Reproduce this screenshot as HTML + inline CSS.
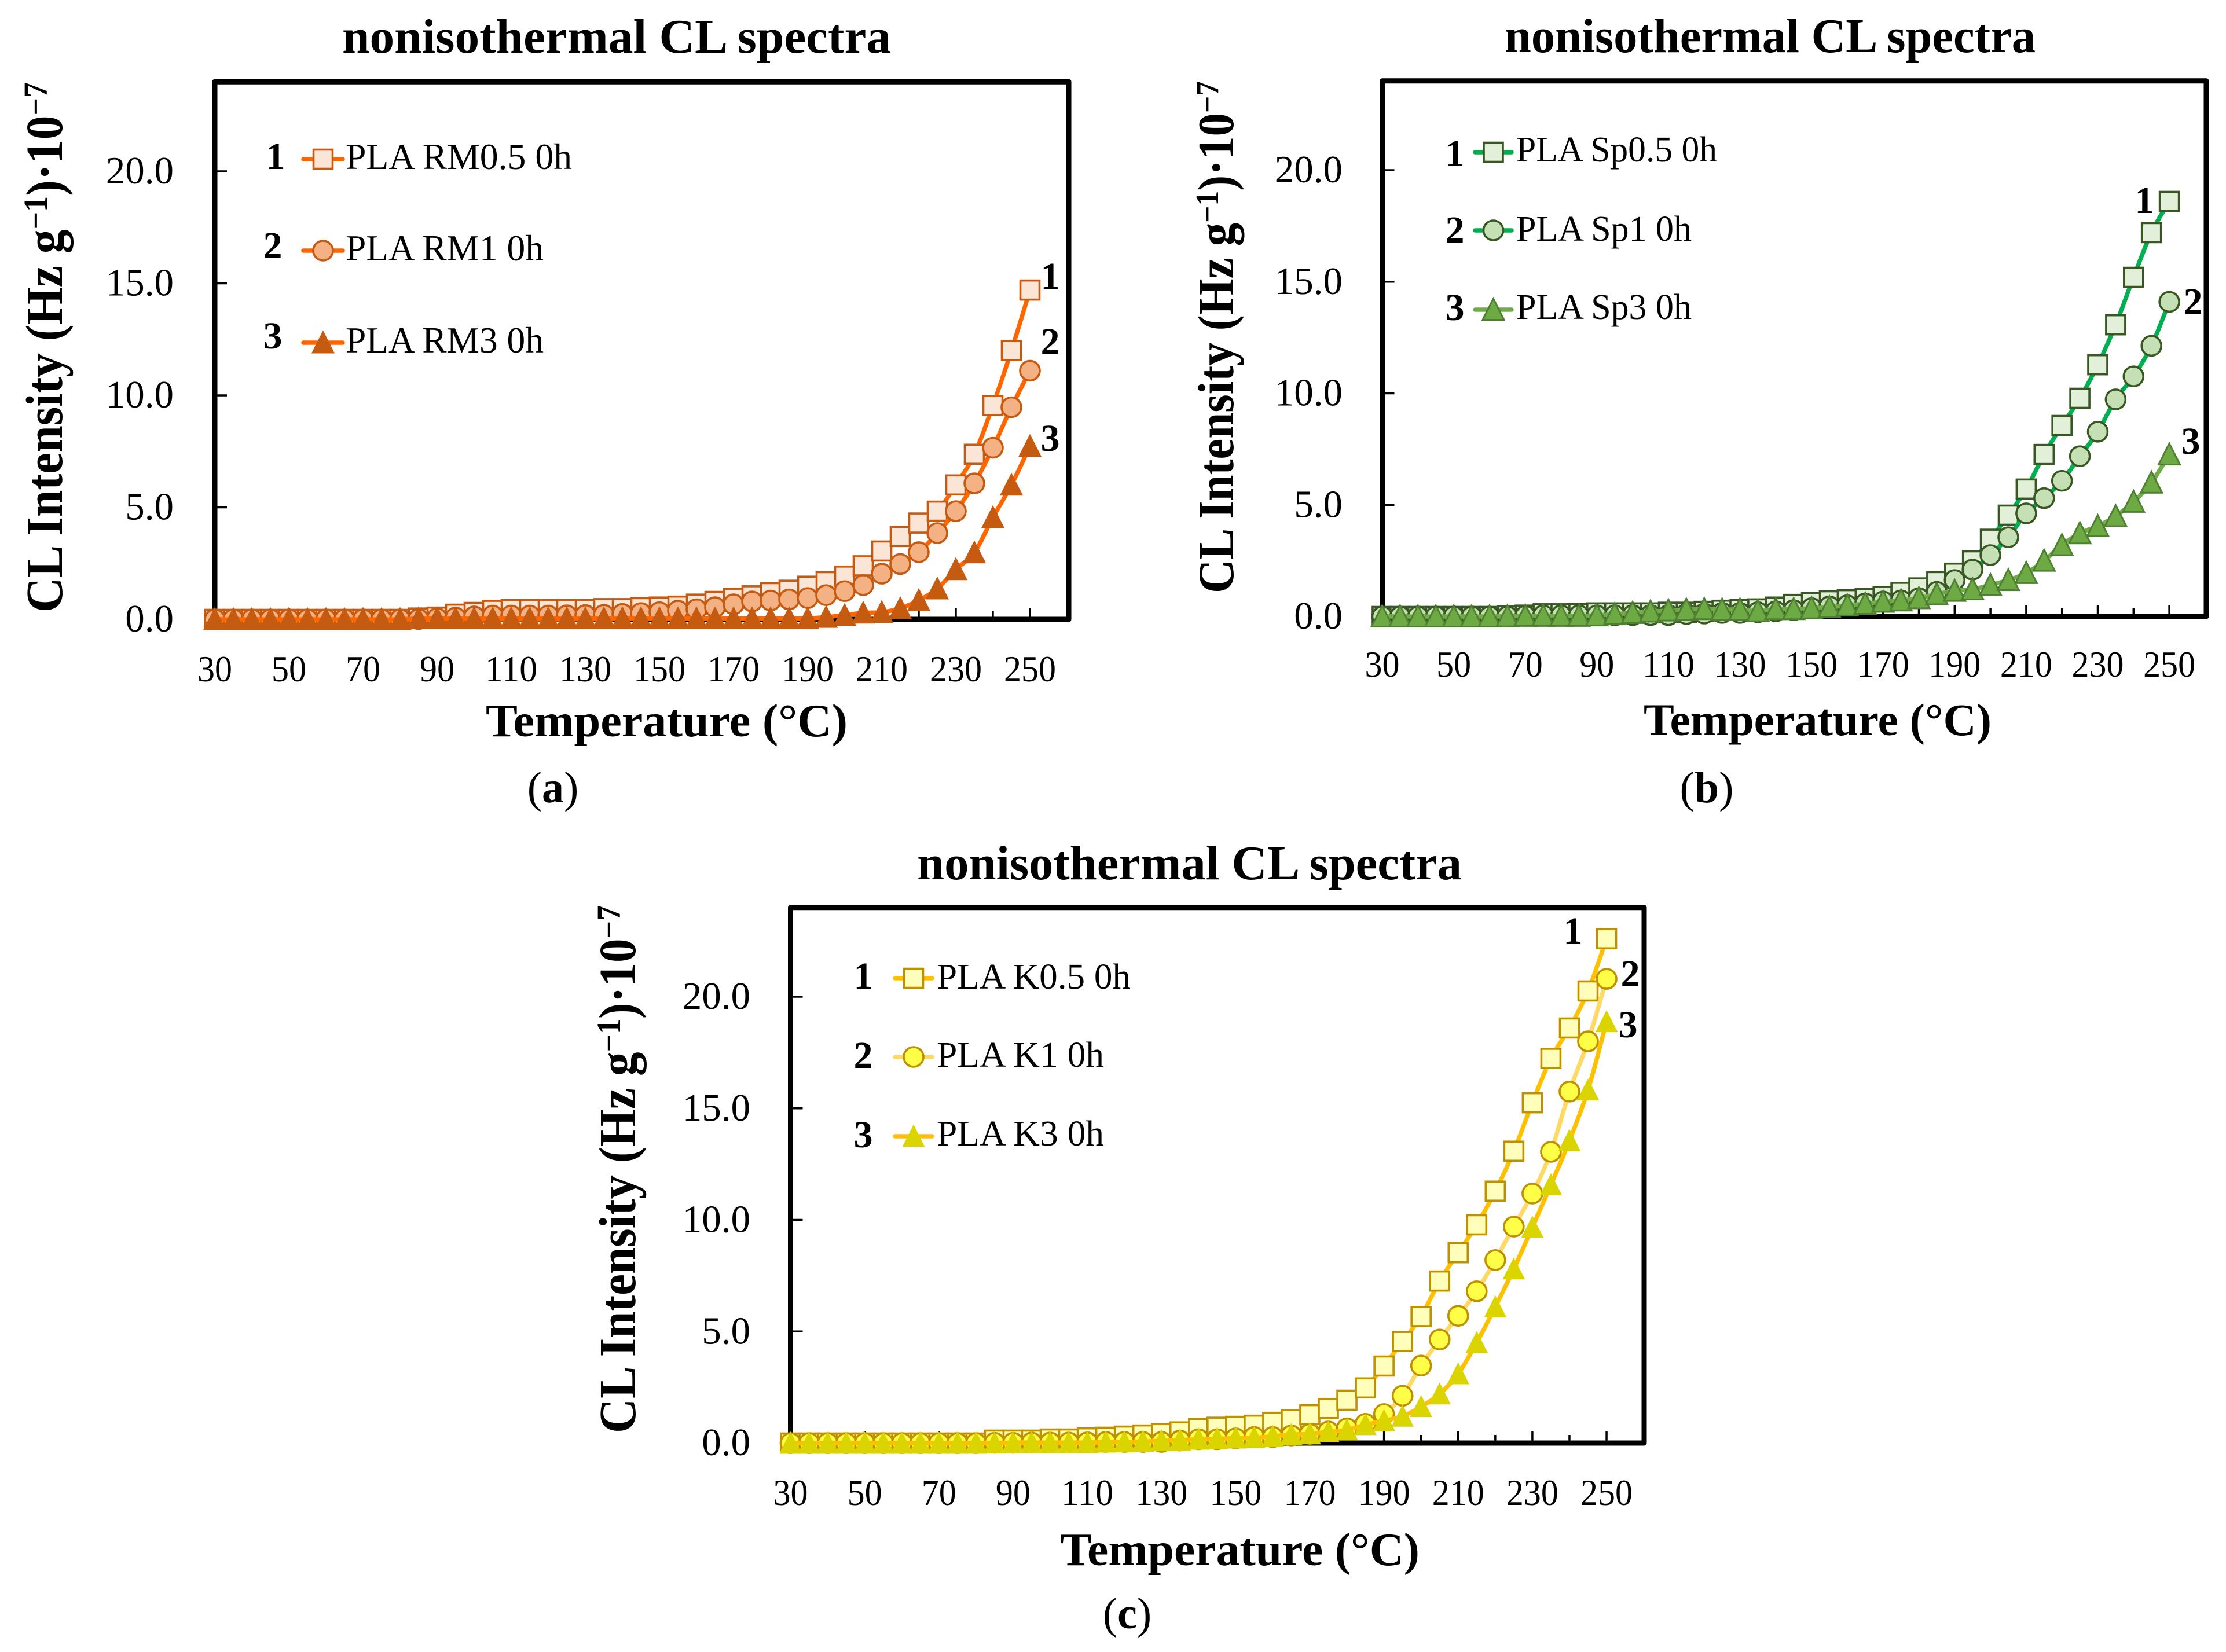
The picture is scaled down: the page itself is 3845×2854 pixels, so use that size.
<!DOCTYPE html>
<html lang="en">
<head>
<meta charset="utf-8">
<title>nonisothermal CL spectra</title>
<style>
html,body{margin:0;padding:0;background:#fff;}
svg{display:block;}
text{font-family:"Liberation Serif",serif;fill:#000;}
.b{font-weight:bold;}
</style>
</head>
<body>
<svg id="figure" xmlns="http://www.w3.org/2000/svg" width="3845" height="2854" viewBox="0 0 3845 2854">
<rect width="3845" height="2854" fill="#fff"/>

<g id="chart-a"></g>
<g id="chart-b"></g>
<g id="chart-c"></g>

<!-- Panel a text -->
<text class="b" x="591" y="91" font-size="84" textLength="948" lengthAdjust="spacingAndGlyphs">nonisothermal CL spectra</text>
<text class="b" transform="translate(107,1058) rotate(-90)" font-size="90" textLength="916" lengthAdjust="spacingAndGlyphs">CL Intensity (Hz g<tspan dy="-26" font-size="58">−1</tspan><tspan dy="26">)·10</tspan><tspan dy="-26" font-size="58">−7</tspan></text>
<text class="b" x="839" y="1272" font-size="80" textLength="625" lengthAdjust="spacingAndGlyphs">Temperature (°C)</text>
<text x="955" y="1386" font-size="76" text-anchor="middle">(<tspan class="b">a</tspan>)</text>
<text class="b" x="476" y="292" font-size="66" text-anchor="middle">1</text>
<text class="b" x="471" y="446" font-size="66" text-anchor="middle">2</text>
<text class="b" x="471" y="602" font-size="66" text-anchor="middle">3</text>
<text x="597" y="292" font-size="64" textLength="391" lengthAdjust="spacingAndGlyphs">PLA RM0.5 0h</text>
<text x="597" y="450" font-size="64" textLength="342" lengthAdjust="spacingAndGlyphs">PLA RM1 0h</text>
<text x="597" y="609" font-size="64" textLength="342" lengthAdjust="spacingAndGlyphs">PLA RM3 0h</text>
<text class="b" x="1814" y="499" font-size="66" text-anchor="middle">1</text>
<text class="b" x="1814" y="612" font-size="66" text-anchor="middle">2</text>
<text class="b" x="1814" y="779" font-size="66" text-anchor="middle">3</text>

<!-- Panel b text -->
<text class="b" x="2599" y="90" font-size="84" textLength="917" lengthAdjust="spacingAndGlyphs">nonisothermal CL spectra</text>
<text class="b" transform="translate(2130,1025) rotate(-90)" font-size="88" textLength="885" lengthAdjust="spacingAndGlyphs">CL Intensity (Hz g<tspan dy="-26" font-size="56">−1</tspan><tspan dy="26">)·10</tspan><tspan dy="-26" font-size="56">−7</tspan></text>
<text class="b" x="2839" y="1270" font-size="78" textLength="601" lengthAdjust="spacingAndGlyphs">Temperature (°C)</text>
<text x="2948" y="1386" font-size="76" text-anchor="middle">(<tspan class="b">b</tspan>)</text>
<text class="b" x="2513" y="287" font-size="66" text-anchor="middle">1</text>
<text class="b" x="2513" y="419" font-size="66" text-anchor="middle">2</text>
<text class="b" x="2513" y="553" font-size="66" text-anchor="middle">3</text>
<text x="2619" y="279" font-size="62" textLength="347" lengthAdjust="spacingAndGlyphs">PLA Sp0.5 0h</text>
<text x="2619" y="416" font-size="62" textLength="303" lengthAdjust="spacingAndGlyphs">PLA Sp1 0h</text>
<text x="2619" y="551" font-size="62" textLength="303" lengthAdjust="spacingAndGlyphs">PLA Sp3 0h</text>
<text class="b" x="3704" y="368" font-size="66" text-anchor="middle">1</text>
<text class="b" x="3788" y="543" font-size="66" text-anchor="middle">2</text>
<text class="b" x="3784" y="784" font-size="66" text-anchor="middle">3</text>

<!-- Panel c text -->
<text class="b" x="1584" y="1519" font-size="84" textLength="941" lengthAdjust="spacingAndGlyphs">nonisothermal CL spectra</text>
<text class="b" transform="translate(1097,2476) rotate(-90)" font-size="90" textLength="912" lengthAdjust="spacingAndGlyphs">CL Intensity (Hz g<tspan dy="-26" font-size="58">−1</tspan><tspan dy="26">)·10</tspan><tspan dy="-26" font-size="58">−7</tspan></text>
<text class="b" x="1831" y="2704" font-size="80" textLength="621" lengthAdjust="spacingAndGlyphs">Temperature (°C)</text>
<text x="1947" y="2813" font-size="76" text-anchor="middle">(<tspan class="b">c</tspan>)</text>
<text class="b" x="1491" y="1708" font-size="66" text-anchor="middle">1</text>
<text class="b" x="1491" y="1845" font-size="66" text-anchor="middle">2</text>
<text class="b" x="1491" y="1982" font-size="66" text-anchor="middle">3</text>
<text x="1618" y="1708" font-size="62" textLength="335" lengthAdjust="spacingAndGlyphs">PLA K0.5 0h</text>
<text x="1618" y="1843" font-size="62" textLength="289" lengthAdjust="spacingAndGlyphs">PLA K1 0h</text>
<text x="1618" y="1979" font-size="62" textLength="289" lengthAdjust="spacingAndGlyphs">PLA K3 0h</text>
<text class="b" x="2717" y="1630" font-size="66" text-anchor="middle">1</text>
<text class="b" x="2816" y="1704" font-size="66" text-anchor="middle">2</text>
<text class="b" x="2812" y="1792" font-size="66" text-anchor="middle">3</text>
</svg>

<script>
const temperatures = [30,35,40,45,50,55,60,65,70,75,80,85,90,95,100,105,110,115,120,125,130,135,140,145,150,155,160,165,170,175,180,185,190,195,200,205,210,215,220,225,230,235,240,245,250];
const xTickLabels = [30,50,70,90,110,130,150,170,190,210,230,250];
const xMinorTicks = [40,60,80,100,120,140,160,180,200,220,240];
const yTickLabels = ["0.0","5.0","10.0","15.0","20.0"];
const yTickValues = [0,5,10,15,20];

const rm05 = [0,0,0,0,0,0,0,0,0,0,0,.06,.1,.23,.31,.4,.44,.44,.44,.44,.44,.48,.48,.52,.55,.59,.68,.8,.94,1.05,1.19,1.3,1.48,1.68,1.93,2.39,3.05,3.7,4.3,4.83,6.0,7.37,9.55,12.0,14.7];
const rm1 = [0,0,0,0,0,0,0,0,0,0,0,.01,.05,.08,.13,.17,.17,.17,.17,.18,.19,.2,.24,.28,.32,.39,.45,.54,.67,.8,.84,.89,.95,1.08,1.26,1.53,2.04,2.47,3.0,3.85,4.83,6.07,7.66,9.47,11.1];
const rm3 = [0,0,0,0,0,0,0,0,0,0,0,.04,.04,.04,.04,.04,.04,.04,.04,.04,.04,.04,.04,.04,.04,.04,.04,.04,.04,.04,.04,.04,.04,.1,.19,.29,.32,.49,.85,1.37,2.23,2.98,4.55,6.0,7.73];

const sp05 = [0,0,0,0,0,0,0,.03,.06,.12,.12,.13,.16,.16,.16,.16,.19,.19,.23,.28,.31,.34,.42,.54,.62,.7,.75,.8,.9,1.08,1.28,1.56,1.94,2.49,3.46,4.54,5.71,7.26,8.56,9.78,11.28,13.07,15.2,17.2,18.6];
const sp1 = [0,0,0,0,0,0,0,0,.03,.05,.05,.05,.05,.05,.06,.06,.06,.11,.13,.16,.16,.19,.23,.28,.37,.45,.5,.58,.67,.72,.82,1.1,1.63,2.1,2.75,3.55,4.62,5.3,6.08,7.18,8.28,9.73,10.76,12.13,14.1];
const sp3 = [0,0,0,0,0,0,0,.01,.03,.03,.03,.03,.05,.1,.16,.22,.27,.31,.33,.31,.31,.24,.33,.33,.37,.42,.49,.57,.66,.72,.82,1.0,1.15,1.22,1.41,1.63,1.95,2.5,3.2,3.73,4.05,4.5,5.14,6.0,7.26];

const k05 = [0,0,0,0,0,0,0,0,0,0,0,.13,.13,.13,.18,.18,.23,.26,.31,.36,.42,.5,.65,.71,.75,.8,.93,1.05,1.27,1.55,1.92,2.47,3.45,4.55,5.67,7.26,8.53,9.78,11.29,13.08,15.25,17.24,18.6,20.26,22.6];
const k1 = [0,0,0,0,0,0,0,0,0,0,0,.01,.01,.02,.02,.02,.03,.05,.05,.05,.05,.11,.17,.17,.21,.27,.27,.34,.41,.52,.66,.86,1.3,2.12,3.47,4.64,5.7,6.8,8.2,9.7,11.18,13.05,15.75,18.0,20.8];
const k3 = [0,0,0,0,0,0,0,0,0,0,0,0,.02,.02,.02,.02,.02,.04,.05,.07,.1,.13,.17,.19,.22,.24,.3,.38,.41,.5,.58,.82,1.0,1.2,1.63,2.2,3.1,4.5,6.1,7.8,9.67,11.57,13.55,15.82,18.88];

const NS = 'http://www.w3.org/2000/svg';

function mk(tag, attrs, parent) {
  const el = document.createElementNS(NS, tag);
  for (const k in attrs) el.setAttribute(k, attrs[k]);
  parent.appendChild(el);
  return el;
}

function smoothPath(pts) {
  let d = 'M' + pts[0][0].toFixed(1) + ' ' + pts[0][1].toFixed(1);
  for (let i = 0; i < pts.length - 1; i++) {
    const p0 = pts[Math.max(i - 1, 0)], p1 = pts[i], p2 = pts[i + 1], p3 = pts[Math.min(i + 2, pts.length - 1)];
    const c1x = p1[0] + (p2[0] - p0[0]) / 6, c1y = p1[1] + (p2[1] - p0[1]) / 6;
    const c2x = p2[0] - (p3[0] - p1[0]) / 6, c2y = p2[1] - (p3[1] - p1[1]) / 6;
    d += 'C' + c1x.toFixed(1) + ' ' + c1y.toFixed(1) + ' ' + c2x.toFixed(1) + ' ' + c2y.toFixed(1) + ' ' + p2[0].toFixed(1) + ' ' + p2[1].toFixed(1);
  }
  return d;
}

function drawMarker(parent, kind, cx, cy, st) {
  let el;
  if (kind === 'square') {
    el = mk('rect', {x: cx - 16.5, y: cy - 16.5, width: 33, height: 33, fill: st.fill, stroke: st.stroke, 'stroke-width': 3.6}, parent);
    
  } else if (kind === 'circle') {
    el = mk('circle', {cx: cx, cy: cy, r: 17, fill: st.fill, stroke: st.stroke, 'stroke-width': 3.6}, parent);
    
  } else {
    const pts = (cx) + ',' + (cy - 19) + ' ' + (cx + 18.5) + ',' + (cy + 17.5) + ' ' + (cx - 18.5) + ',' + (cy + 17.5);
    el = mk('polygon', {points: pts, fill: st.fill, stroke: st.stroke, 'stroke-width': st.sw}, parent);
    
  }
  
}

function drawChart(cfg) {
  const g = document.getElementById(cfg.id);
  const xScale = v => cfg.x30 + (v - 30) * cfg.dx;
  const yScale = v => cfg.y0 - v * cfg.uy;
  const right = cfg.right, top = yScale(24);

  const frame = mk('rect', {x: cfg.x30, y: top, width: right - cfg.x30, height: cfg.y0 - top, fill: '#fff', stroke: '#000', 'stroke-width': 9, 'stroke-linejoin': 'round'}, g);
  
  

  yTickValues.forEach((v, i) => {
    if (v > 0) {
      const t = mk('line', {x1: cfg.x30, x2: cfg.x30 + 21, y1: yScale(v), y2: yScale(v), stroke: '#000', 'stroke-width': 3.5}, g);
      
      
    }
    const lab = mk('text', {x: cfg.yLabelRight, y: yScale(v) + 21, 'font-size': 67, 'text-anchor': 'end'}, g);
    lab.textContent = yTickLabels[i];
    
    
  });

  xTickLabels.forEach(v => {
    const t = mk('line', {x1: xScale(v), x2: xScale(v), y1: cfg.y0, y2: cfg.y0 - 20, stroke: '#000', 'stroke-width': 3.5}, g);
    
    
    const s = String(v);
    const lab = mk('text', {x: xScale(v), y: cfg.xLabelY, 'font-size': 64, 'text-anchor': 'middle', textLength: s.length * 30, lengthAdjust: 'spacingAndGlyphs'}, g);
    lab.textContent = s;
    
    
  });
  xMinorTicks.forEach(v => {
    const t = mk('line', {x1: xScale(v), x2: xScale(v), y1: cfg.y0, y2: cfg.y0 - 14, stroke: '#000', 'stroke-width': 3.5}, g);
    
    
  });

  cfg.series.forEach(s => {
    const sg = mk('g', {}, g);
    
    
    const pts = s.values.map((v, i) => [xScale(temperatures[i]), yScale(v)]);
    const line = mk('path', {d: smoothPath(pts), fill: 'none', stroke: s.line, 'stroke-width': 7.5, 'stroke-linecap': 'round'}, sg);
    
    
    pts.forEach(p => drawMarker(sg, s.kind, p[0], p[1], s));
  });

  cfg.series.forEach((s, i) => {
    const lg = mk('g', {}, g);
    
    
    const y = cfg.legendY[i];
    const l = mk('line', {x1: cfg.legendX[0], x2: cfg.legendX[1], y1: y, y2: y, stroke: s.line, 'stroke-width': 7.5, 'stroke-linecap': 'round'}, lg);
    
    
    drawMarker(lg, s.kind, (cfg.legendX[0] + cfg.legendX[1]) / 2, y, s);
  });
}

drawChart({
  id: 'chart-a', x30: 371, dx: 6.4, y0: 1070, uy: 38.7, right: 1846, yLabelRight: 300, xLabelY: 1177,
  legendX: [524, 592], legendY: [275, 433, 592],
  series: [
    {name: 'rm05', values: rm05, kind: 'square', line: '#FF6600', fill: '#FBE5D6', stroke: '#C55A11', sw: 3},
    {name: 'rm1', values: rm1, kind: 'circle', line: '#FF6600', fill: '#F4B183', stroke: '#C55A11', sw: 3},
    {name: 'rm3', values: rm3, kind: 'triangle', line: '#FF6600', fill: '#C55A11', stroke: '#C55A11', sw: 2}
  ]
});
drawChart({
  id: 'chart-b', x30: 2387.5, dx: 6.18, y0: 1065, uy: 38.55, right: 3811, yLabelRight: 2319, xLabelY: 1169,
  legendX: [2548, 2611], legendY: [263, 398, 535],
  series: [
    {name: 'sp05', values: sp05, kind: 'square', line: '#00B050', fill: '#E2F0D9', stroke: '#385723', sw: 3},
    {name: 'sp1', values: sp1, kind: 'circle', line: '#00B050', fill: '#C5E0B4', stroke: '#385723', sw: 3},
    {name: 'sp3', values: sp3, kind: 'triangle', line: '#70AD47', fill: '#6EAA44', stroke: '#4F7F32', sw: 3}
  ]
});
drawChart({
  id: 'chart-c', x30: 1365.5, dx: 6.407, y0: 2493, uy: 38.55, right: 2840, yLabelRight: 1296, xLabelY: 2600,
  legendX: [1546, 1610], legendY: [1690, 1826, 1963],
  series: [
    {name: 'k05', values: k05, kind: 'square', line: '#FFC000', fill: '#FFFFBB', stroke: '#BF9000', sw: 3},
    {name: 'k1', values: k1, kind: 'circle', line: '#FFD966', fill: '#FFFF47', stroke: '#BF9000', sw: 3},
    {name: 'k3', values: k3, kind: 'triangle', line: '#FFC000', fill: '#DAD400', stroke: '#DAD400', sw: 1}
  ]
});
</script>
</body>
</html>
